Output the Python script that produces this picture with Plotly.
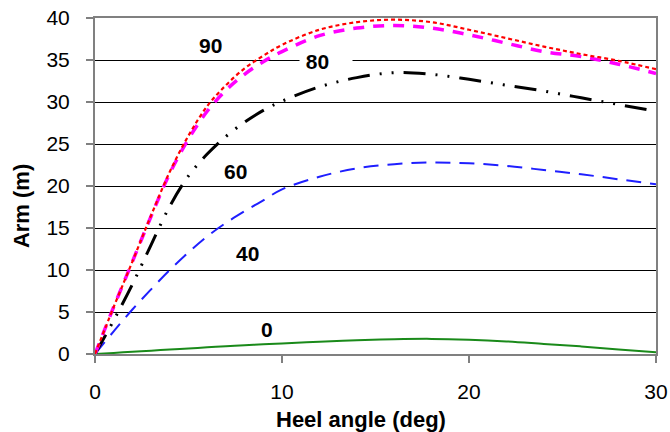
import plotly.graph_objects as go

heel = [0, 1, 2, 3, 4, 5, 6, 7, 8, 9, 10, 12, 14, 16, 18, 20, 22, 24, 26, 28, 30]

arm_90 = [0, 5.6, 11.0, 16.5, 21.7, 26.0, 29.5, 32.0, 34.0, 35.5, 36.8, 38.6, 39.5, 39.8, 39.5, 38.6, 37.6, 36.6, 35.7, 34.9, 33.9]
arm_80 = [0, 5.6, 11.0, 16.4, 21.5, 25.6, 28.9, 31.4, 33.3, 34.8, 36.0, 37.9, 38.8, 39.1, 38.8, 38.0, 37.0, 36.0, 35.4, 34.5, 33.4]
arm_60 = [0, 4.0, 8.3, 13.0, 17.6, 21.2, 23.8, 25.9, 27.6, 29.0, 30.1, 31.8, 32.9, 33.5, 33.3, 32.7, 32.0, 31.3, 30.5, 29.7, 28.9]
arm_40 = [0, 2.7, 5.3, 7.7, 10.0, 12.1, 14.0, 15.6, 17.0, 18.3, 19.6, 21.1, 22.1, 22.6, 22.8, 22.7, 22.4, 21.9, 21.4, 20.8, 20.2]
arm_0 = [0, 0.13, 0.27, 0.4, 0.53, 0.66, 0.8, 0.92, 1.04, 1.15, 1.26, 1.47, 1.64, 1.76, 1.8, 1.7, 1.5, 1.2, 0.9, 0.55, 0.2]

labels = ["90", "80", "60", "40", "0"]
x_ticks = [0, 10, 20, 30]
y_ticks = [0, 5, 10, 15, 20, 25, 30, 35, 40]
x_title = "Heel angle (deg)"
y_title = "Arm (m)"

FONT = "Liberation Sans, Arial, sans-serif"

fig = go.Figure()
fig.add_trace(go.Scatter(x=heel, y=arm_0, mode="lines", name=labels[4],
                         line=dict(color="#1a8a1a", width=2, shape="spline")))
fig.add_trace(go.Scatter(x=heel, y=arm_40, mode="lines", name=labels[3],
                         line=dict(color="#1f1fff", width=2, dash="15px,9px", shape="spline")))
fig.add_trace(go.Scatter(x=heel, y=arm_60, mode="lines", name=labels[2],
                         line=dict(color="#000000", width=3, dash="22px,10px,2px,10px,2px,10px", shape="spline")))
fig.add_trace(go.Scatter(x=heel, y=arm_80, mode="lines", name=labels[1],
                         line=dict(color="#ff00ff", width=3.5, dash="11px,9px", shape="spline")))
fig.add_trace(go.Scatter(x=heel, y=arm_90, mode="lines", name=labels[0],
                         line=dict(color="#ff0000", width=2.2, dash="4px,3px", shape="spline")))

lab_font = dict(family=FONT, size=21, color="#000000", weight="bold")
ann = [
    dict(x=6.18, y=36.7, text=labels[0], showarrow=False, font=lab_font, xref="x", yref="y"),
    dict(x=10.91, y=34.8, text="\u00a0" + labels[1], showarrow=False, font=lab_font, xref="x", yref="y",
         xanchor="left", width=52, align="left", bgcolor="white", borderpad=0),
    dict(x=7.49, y=21.7, text=labels[2], showarrow=False, font=lab_font, xref="x", yref="y"),
    dict(x=8.16, y=12.0, text=labels[3], showarrow=False, font=lab_font, xref="x", yref="y"),
    dict(x=9.22, y=2.86, text=labels[4], showarrow=False, font=lab_font, xref="x", yref="y"),
    dict(x=0.475, y=-0.196, xref="paper", yref="paper", text="<b>" + x_title + "</b>", showarrow=False,
         font=dict(family=FONT, size=22, color="#000000"), xanchor="center", yanchor="middle"),
    dict(x=-0.132, y=0.44, xref="paper", yref="paper", text="<b>" + y_title + "</b>", showarrow=False,
         textangle=-90, font=dict(family=FONT, size=22, color="#000000"), xanchor="center", yanchor="middle"),
]

fig.update_layout(
    width=670, height=432,
    margin=dict(l=95, r=14, t=18, b=78),
    paper_bgcolor="white", plot_bgcolor="white",
    showlegend=False,
    annotations=ann,
    font=dict(family=FONT, size=21, color="#000000"),
)
fig.update_xaxes(range=[0, 30], tickvals=x_ticks, showgrid=False, zeroline=False, automargin=False,
                 showline=True, linecolor="#808080", linewidth=2, mirror=True,
                 ticks="outside", ticklen=7, tickcolor="#808080", tickwidth=1.5,
                 ticklabeloverflow="allow",
                 ticklabelstandoff=11, tickfont=dict(family=FONT, size=21, color="#000000"))
fig.update_yaxes(range=[0, 40], tickvals=y_ticks, showgrid=True, gridcolor="#000000", gridwidth=1,
                 zeroline=False, showline=True, linecolor="#808080", linewidth=2, mirror=True, automargin=False,
                 ticks="outside", ticklen=7, tickcolor="#808080", tickwidth=1.5,
                 ticklabeloverflow="allow",
                 ticklabelstandoff=12, tickfont=dict(family=FONT, size=21, color="#000000"))

fig.write_html("out.html", config={"displayModeBar": False},
               post_script="document.body.style.margin='0px';document.body.style.overflow='hidden';")
